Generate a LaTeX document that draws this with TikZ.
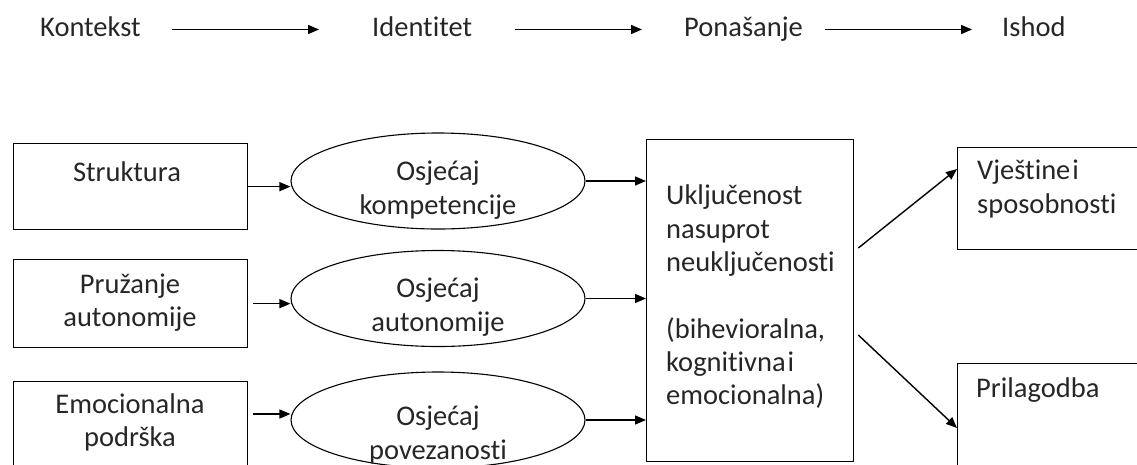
\documentclass[tikz,border=0pt]{standalone}
\usepackage{fontspec}
\setmainfont{Carlito}[Ligatures=NoCommon]
\usetikzlibrary{arrows.meta,shapes.geometric}
\begin{document}
\begin{tikzpicture}[x=1pt,y=-1pt,
  every node/.style={font=\fontsize{28.5}{33.3}\selectfont, text=black!85, inner sep=0pt},
  box/.style={draw, line width=1.3pt, rectangle, anchor=north west},
  oval/.style={draw, line width=1.1pt, ellipse, minimum width=294pt, minimum height=96pt},
  lbl/.style={text height=18pt, text depth=5pt, anchor=west},
  arr/.style={line width=1.4pt, -{Triangle[length=11pt,width=9pt]}},
  ]
\useasboundingbox (0,0) rectangle (1137,464);
\clip (0,0) rectangle (1137,464);

% stage headings
\node[lbl] (k)  at (40,29.5)   {Kontekst};
\node[lbl] (id) at (372,29.5)  {Identitet};
\node[lbl] (po) at (684,29.5)  {Ponašanje};
\node[lbl] (is) at (1002,29.5) {Ishod};
\draw[arr, shorten <=31pt, shorten >=53pt] (k.east) -- (id.west);
\draw[arr, shorten <=43pt, shorten >=42pt] (id.east) -- (po.west);
\draw[arr, shorten <=22pt, shorten >=30pt] (po.east) -- (is.west);

% context boxes
\node[box, minimum width=234pt, minimum height=86pt]  (s)  at (13,143) {};
\node (st) at (127,172) {Struktura};
\node[box, minimum width=234pt, minimum height=88pt]  (pa) at (13,259) {};
\node[align=center] (pat) at (130,302.5) {Pružanje\\autonomije};
\node[box, minimum width=234pt, minimum height=100pt] (em) at (13,381) {};
\node[align=center] (emt) at (130,422.5) {Emocionalna\\podrška};

% identity ellipses
\node[oval] (e1) at (438,181)   {};
\node[align=center] (e1t) at (438,190) {Osjećaj\\kompetencije};
\node[oval] (e2) at (438,298.5) {};
\node[align=center] (e2t) at (438,307) {Osjećaj\\autonomije};
\node[oval] (e3) at (438,420)   {};
\node[align=center] (e3t) at (438,435) {Osjećaj\\povezanosti};

\draw[arr] (s.east) -- (s.east -| e1.west);
\draw[arr, shorten <=5pt] (pa.east) -- (pa.east -| e2.west);
\coordinate (emo) at ([shift={(5,33)}]em.north east);
\draw[arr] (emo) -- (emo -| e3.west);

% engagement box
\node[box, minimum width=207pt, minimum height=322pt] (c) at (646,139) {};
\node[anchor=north west, align=left] (ct) at (666,185)
  {Uključenost\\nasuprot\\neuključenosti\\[33.3pt](bihevioralna,\\kognitivna\hspace{2pt}i\\emocionalna)};

\draw[arr] (e1.east) -- (e1.east -| c.west);
\draw[arr] (e2.east) -- (e2.east -| c.west);
\draw[arr] (e3.east) -- (e3.east -| c.west);

% outcome boxes
\node[box, minimum width=220pt, minimum height=102pt] (v) at (957,147) {};
\node[anchor=north west, align=left] (vt) at (977,160) {Vještine\hspace{2pt}i\\sposobnosti};
\node[box, minimum width=220pt, minimum height=130pt] (pr) at (957,363) {};
\node[anchor=west] (prt) at (976,390) {Prilagodba};

\draw[arr] ([shift={(4,109)}]c.north east) -- ([shift={(0,22)}]v.north west);
\draw[arr] ([shift={(4,196)}]c.north east) -- ([shift={(0,65)}]pr.north west);
\end{tikzpicture}
\end{document}
